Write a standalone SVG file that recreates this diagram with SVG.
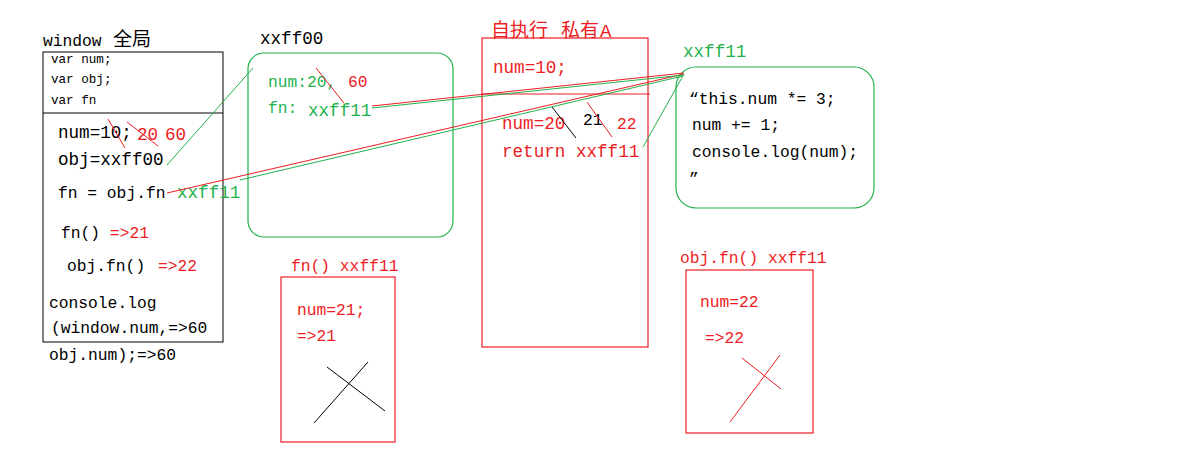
<svg xmlns="http://www.w3.org/2000/svg" width="1200" height="460" viewBox="0 0 1200 460">
<style>
text{font-family:"Liberation Mono","Noto Sans CJK SC",monospace;font-size:16.3px;fill:#000}
.cjk{font-family:"Noto Sans CJK SC",sans-serif;font-size:19px}
.r{fill:#ed1c24}
.g{fill:#22b14c}
.sm{font-size:12.6px}
.big{font-size:17.6px}
.box{fill:none;stroke:#000;stroke-width:1}
.rbox{fill:none;stroke:#ed1c24;stroke-width:1.2}
.gbox{fill:none;stroke:#22b14c;stroke-width:1.2}
.rl{stroke:#ed1c24;stroke-width:1;fill:none}
.gl{stroke:#22b14c;stroke-width:1;fill:none}
.kl{stroke:#000;stroke-width:1;fill:none}
</style>
<rect width="1200" height="460" fill="#fff"/>

<g id="window">
<text x="43" y="46">window<tspan class="cjk" x="113">全局</tspan></text>
<rect class="box" x="43" y="52" width="180" height="290"/>
<line class="box" x1="43" y1="113" x2="223" y2="113"/>
<text class="sm" x="51" y="63">var num;</text>
<text class="sm" x="51" y="83">var obj;</text>
<text class="sm" x="51" y="104">var fn</text>
<text class="big" x="58" y="138">num=10;</text>
<text class="r big" x="137" y="140">20</text>
<text class="r big" x="165" y="140">60</text>
<line class="rl" x1="108" y1="119" x2="125" y2="148"/>
<line class="rl" x1="127" y1="122" x2="158" y2="146"/>
<text class="big" x="58" y="165">obj=xxff00</text>
<text x="58" y="198">fn = obj.fn</text>
<text class="g big" x="177" y="198">xxff11</text>
<text x="61" y="238">fn() <tspan class="r">=&gt;21</tspan></text>
<text x="67" y="271">obj.fn()</text>
<text class="r" x="158" y="271">=&gt;22</text>
<text x="49" y="308">console.log</text>
<text x="51" y="333">(window.num,=&gt;60</text>
<text x="49" y="360">obj.num);=&gt;60</text>
</g>

<g id="xxff00">
<text class="big" x="260" y="44">xxff00</text>
<rect class="gbox" x="248" y="53" width="205" height="184" rx="16"/>
<text class="g" x="268" y="87">num:20,</text>
<text class="r" x="348" y="87">60</text>
<line class="rl" x1="316" y1="68" x2="344" y2="103"/>
<text class="g" x="268" y="113">fn:</text>
<text class="g big" x="308" y="116">xxff11</text>
</g>

<g id="selfexec">
<text class="r" x="491" y="37"><tspan class="cjk">自执行</tspan><tspan class="cjk" x="561">私有</tspan><tspan x="600" font-size="19">A</tspan></text>
<rect class="rbox" x="482" y="38" width="166" height="309"/>
<line class="rl" x1="482" y1="94" x2="650" y2="94"/>
<text class="r big" x="493" y="73">num=10;</text>
<text class="r big" x="502" y="129">num=20</text>
<text x="583" y="125">21</text>
<text class="r" x="617" y="129">22</text>
<line class="kl" x1="552" y1="107" x2="576" y2="138"/>
<line class="rl" x1="587" y1="102" x2="612" y2="137"/>
<text class="r big" x="502" y="157">return xxff11</text>
</g>

<g id="xxff11">
<text class="g big" x="683" y="57">xxff11</text>
<rect class="gbox" x="676" y="67" width="198" height="141" rx="20"/>
<text x="689" y="104">“this.num *= 3;</text>
<text x="692" y="130">num += 1;</text>
<text x="692" y="157">console.log(num);</text>
<text x="689" y="184">”</text>
</g>

<g id="fncall">
<text class="r" x="291" y="271">fn() xxff11</text>
<rect class="rbox" x="281" y="277" width="114" height="165"/>
<text class="r" x="297" y="315">num=21;</text>
<text class="r" x="297" y="341">=&gt;21</text>
<line class="kl" x1="327" y1="367" x2="385" y2="411"/>
<line class="kl" x1="368" y1="362" x2="314" y2="423"/>
</g>

<g id="objfncall">
<text class="r" x="680" y="263">obj.fn() xxff11</text>
<rect class="rbox" x="686" y="270" width="127" height="163"/>
<text class="r" x="700" y="307">num=22</text>
<text class="r" x="705" y="343">=&gt;22</text>
<line class="rl" x1="742" y1="358" x2="781" y2="389"/>
<line class="rl" x1="780" y1="355" x2="730" y2="422"/>
</g>

<g id="connectors">
<line class="gl" x1="167" y1="165" x2="253" y2="68"/>
<line class="rl" x1="167" y1="193" x2="684" y2="74"/>
<line class="gl" x1="240" y1="180" x2="683" y2="76"/>
<line class="gl" x1="372" y1="108" x2="684" y2="75"/>
<line class="rl" x1="372" y1="106" x2="684" y2="73"/>
<line class="gl" x1="643" y1="147" x2="684" y2="74"/>
</g>
</svg>
